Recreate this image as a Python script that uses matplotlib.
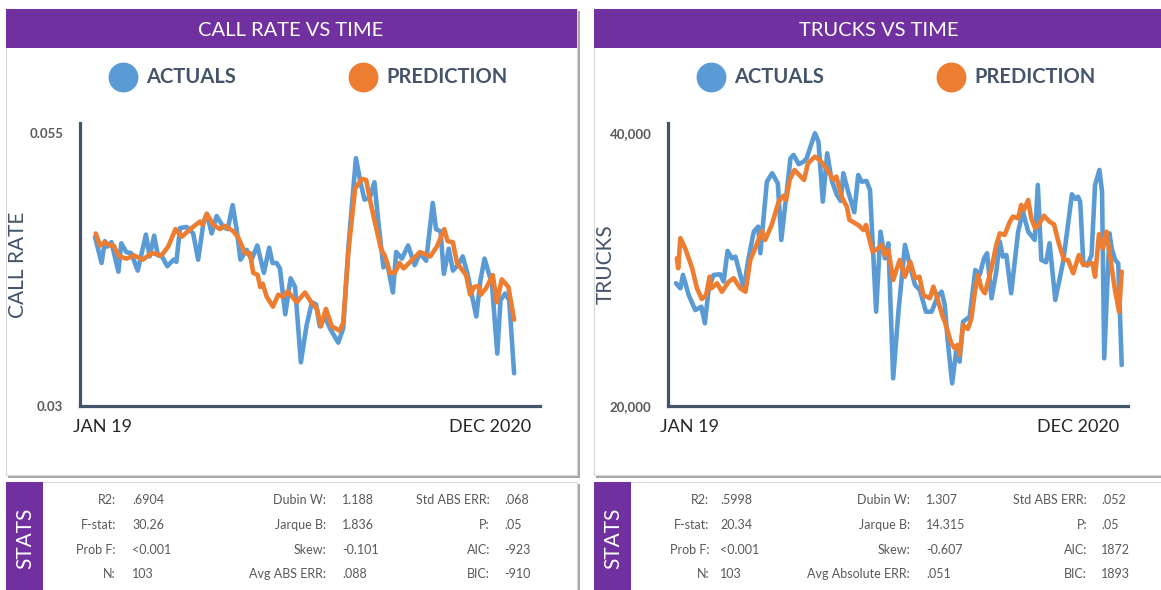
import matplotlib
matplotlib.use("Agg")
import matplotlib.pyplot as plt
from matplotlib.patches import Rectangle
from matplotlib.lines import Line2D

# ---- data (week index 0 = Jan 2019, 102 = Dec 2020) ----
call_act_wk = [0, 1.6, 2.4, 3.0, 4.0, 5.7, 6.4, 7.6, 8.8, 10.4, 12.4, 13.3, 14.4, 15.3, 16.3, 17.6,
               19.1, 19.8, 20.7, 22.3, 23.9, 25.1, 26.4, 27.2, 28.4, 29.6, 31.2, 32.3, 33.5, 34.5,
               35.4, 36.9, 38.1, 39.5, 41.1, 42.4, 43.2, 44.2, 45.0, 46.3, 47.6, 48.7, 50.1, 51.5,
               52.8, 53.8, 54.7, 55.9, 57.2, 59.2, 60.4, 61.7, 63.5, 64.6, 65.6, 66.9, 68.0, 69.0,
               70.2, 71.1, 72.5, 73.3, 74.7, 76.2, 77.8, 79.1, 80.6, 82.2, 83.0, 84.1, 84.9, 86.1,
               87.1, 88.5, 89.5, 90.6, 91.8, 92.8, 93.8, 94.8, 95.8, 96.6, 97.9, 98.7, 99.8, 100.8, 102]
call_act = [.0455, .0431, .0451, .0446, .0450, .0423, .0449, .0441, .0440, .0424, .0457, .0437,
            .0456, .0438, .0437, .0428, .0434, .0432, .0463, .0464, .0458, .0434, .0468, .0476,
            .0458, .0474, .0464, .0462, .0484, .0461, .0434, .0443, .0434, .0447, .0422, .0445,
            .0431, .0431, .0426, .0384, .0417, .0409, .0340, .0374, .0395, .0393, .0373, .0382,
            .0371, .0358, .0371, .0447, .0527, .0505, .0489, .0491, .0505, .0467, .0427, .0431,
            .0404, .0441, .0435, .0447, .0429, .0440, .0433, .0486, .0462, .0460, .0421, .0444,
            .0424, .0430, .0437, .0422, .0400, .0382, .0415, .0435, .0422, .0412, .0348, .0397,
            .0403, .0397, .0330]

call_pred_wk = [0.2, 1.2, 2.4, 3.7, 4.5, 5.9, 7.7, 9.5, 11.6, 13.8, 16.2, 17.8, 19.6, 21.1, 23.5,
                25.6, 26.2, 27.2, 28.8, 30.4, 31.6, 33.7, 34.9, 36.5, 37.7, 38.5, 39.6, 40.2, 40.8,
                41.8, 43.3, 44.6, 45.7, 46.9, 49.1, 51.1, 52.8, 54.0, 55.0, 56.2, 57.6, 59.5, 60.4,
                61.7, 63.3, 64.9, 66.0, 66.9, 68.2, 69.6, 70.6, 71.8, 73.0, 74.1, 75.1, 76.7, 79.1,
                81.6, 83.2, 85.0, 85.8, 87.1, 88.1, 89.3, 90.3, 91.3, 92.3, 93.3, 93.9, 95.2, 96.8,
                97.8, 99.0, 100.6, 102]
call_pred = [.0458, .0447, .0450, .0447, .0447, .0437, .0435, .0438, .0434, .0440, .0438, .0446,
             .0462, .0455, .0463, .0469, .0466, .0476, .0466, .0462, .0465, .0460, .0454, .0440,
             .0440, .0422, .0420, .0409, .0412, .0400, .0391, .0402, .0400, .0405, .0395, .0404,
             .0394, .0389, .0373, .0389, .0373, .0369, .0376, .0443, .0499, .0508, .0507, .0489,
             .0467, .0444, .0437, .0422, .0422, .0431, .0426, .0432, .0441, .0437, .0446, .0462,
             .0451, .0450, .0431, .0425, .0420, .0402, .0409, .0410, .0402, .0408, .0420, .0395,
             .0416, .0409, .0379]

truck_act_wk = [0, 1.0, 1.6, 2.9, 4.4, 5.8, 6.6, 7.5, 8.6, 10.1, 10.9, 11.8, 12.8, 13.6, 14.3, 15.5,
                16.6, 17.8, 18.8, 19.3, 20.8, 22.0, 23.3, 24.1, 25.0, 26.2, 26.9, 28.1, 29.2, 29.9,
                31.8, 32.6, 33.6, 34.6, 35.6, 36.8, 37.7, 38.3, 39.4, 40.8, 41.7, 42.5, 43.6, 44.4,
                45.8, 46.8, 47.8, 48.6, 49.7, 50.9, 52.4, 53.5, 54.7, 55.8, 57.2, 58.5, 60.0, 60.8,
                61.5, 62.2, 63.2, 64.1, 64.9, 65.7, 67.2, 68.5, 69.5, 70.5, 71.2, 72.2, 73.3, 74.1,
                74.8, 75.6, 76.7, 78.3, 79.4, 80.6, 82.1, 82.8, 83.6, 84.7, 85.5, 86.8, 88.6, 89.7,
                90.6, 91.4, 92.0, 92.5, 93.2, 94.1, 95.1, 95.9, 96.9, 97.5, 98.0, 99.2, 99.7, 100.5,
                101.2, 102]
truck_act = [28990, 28620, 29600, 28130, 27030, 27270, 26060, 28620, 29600, 29650, 29110, 31360,
             30820, 30940, 30090, 28620, 30820, 32770, 33140, 31190, 36430, 37050, 36320, 32160,
             34730, 38150, 38390, 37710, 37900, 38150, 39980, 39360, 34970, 38510, 36560, 35460,
             35020, 37050, 35700, 34190, 36920, 36430, 36480, 35820, 26910, 32770, 30820, 31920,
             22030, 26910, 31800, 30330, 28860, 28500, 26910, 26910, 28130, 28370, 27400, 24710,
             21660, 23980, 23250, 26180, 26540, 29960, 29600, 30820, 31190, 27890, 29840, 32040,
             30940, 31060, 28260, 32770, 34230, 32770, 32160, 36190, 30700, 30530, 31920, 27770,
             30570, 33260, 35510, 35160, 35330, 34970, 30570, 30280, 31060, 36190, 37290, 35700,
             23490, 32650, 31550, 30700, 30450, 23000]

truck_pred_wk = [0.2, 0.5, 1.0, 2.1, 3.7, 4.8, 5.9, 6.9, 7.7, 8.1, 9.4, 10.5, 12.1, 13.2, 14.7, 15.9,
                 17.0, 18.1, 19.7, 20.4, 21.9, 23.5, 24.6, 25.2, 26.0, 27.1, 28.2, 29.3, 30.2, 31.8,
                 32.9, 34.4, 36.0, 36.7, 37.9, 39.1, 39.7, 41.7, 42.9, 43.5, 44.0, 45.0, 46.3, 47.1,
                 47.8, 48.6, 49.7, 51.2, 52.4, 53.6, 54.7, 55.7, 56.6, 58.1, 58.9, 59.8, 60.9, 61.5,
                 63.0, 63.8, 64.4, 64.9, 65.7, 66.8, 67.6, 68.4, 69.1, 69.9, 70.7, 72.2, 73.3, 74.1,
                 75.2, 76.4, 77.1, 78.3, 79.0, 79.6, 80.6, 81.3, 82.2, 83.2, 84.2, 85.5, 86.5, 87.6,
                 88.8, 89.7, 90.9, 92.2, 93.2, 94.3, 95.3, 95.9, 96.8, 97.7, 98.5, 99.3, 100.4, 101.4, 102]
truck_pred = [30820, 30090, 32290, 31550, 30090, 28620, 27840, 28130, 29470, 28620, 28990, 28370,
              29110, 29360, 28620, 28370, 30700, 31550, 32820, 32160, 33260, 34970, 35410, 35090,
              36560, 37290, 36920, 36560, 37780, 38260, 38020, 37410, 36560, 36800, 35330, 34600,
              33630, 33260, 32890, 33260, 32530, 31300, 31550, 31800, 31060, 31430, 29230, 30700,
              29470, 30570, 29360, 29470, 28130, 27890, 28740, 27890, 26670, 26180, 24590, 24230,
              24470, 23740, 25930, 25640, 26420, 28370, 29600, 28620, 28260, 30090, 31800, 32650,
              32530, 33500, 33870, 33750, 34730, 34360, 35090, 33750, 33020, 33380, 33940, 33500,
              33310, 31920, 30700, 30700, 29720, 31060, 30330, 30380, 30450, 29470, 32580, 31550,
              32770, 31060, 28620, 26910, 29840]

stat_labels = [["R2:", "F-stat:", "Prob F:", "N:"],
               ["Dubin W:", "Jarque B:", "Skew:", "Avg ABS ERR:"],
               ["Std ABS ERR:", "P:", "AIC:", "BIC:"]]
call_stats = [[".6904", "30.26", "<0.001", "103"],
              ["1.188", "1.836", "-0.101", ".088"],
              [".068", ".05", "-923", "-910"]]
truck_labels = [["R2:", "F-stat:", "Prob F:", "N:"],
                ["Dubin W:", "Jarque B:", "Skew:", "Avg Absolute ERR:"],
                ["Std ABS ERR:", "P:", "AIC:", "BIC:"]]
truck_stats = [[".5998", "20.34", "<0.001", "103"],
               ["1.307", "14.315", "-0.607", ".051"],
               [".052", ".05", "1872", "1893"]]

BLUE = "#5B9BD5"
ORANGE = "#ED7D31"
PURPLE = "#7030A0"
SLATE = "#44546A"
GREY = "#595959"

W, H = 1161, 590
plt.rcParams['font.family'] = ['Lato', 'DejaVu Sans']
fig = plt.figure(figsize=(W / 100, H / 100), dpi=100)


def fx(x):
    return x / W


def fy(y):
    return 1 - y / H


def rect(x0, y0, x1, y1, **kw):
    fig.add_artist(Rectangle((fx(x0), fy(y1)), (x1 - x0) / W, (y1 - y0) / H,
                             transform=fig.transFigure, zorder=-5, **kw))


def card(x0, y0, x1, y1):
    rect(x0 + 2, y0 + 2, x1 + 3, y1 + 3, fc="#a6a6a6", lw=0)
    rect(x0, y0, x1, y1, fc="white", ec="#d9d9d9", lw=0.8)


def panel(x0, x1, title, act_wk, act, pred_wk, pred, ax_box, xlim, ylim,
          yticks, yticklabels, xticks, ylabel, labels, values, lab_x, val_x):
    card(x0, 9, x1, 475)
    rect(x0, 9, x1, 48, fc=PURPLE, lw=0)
    fig.text(fx((x0 + x1 - 2) / 2), fy(30), title, color="white", fontsize=14.5,
             ha="center", va="center")

    # legend
    lx = x0 + 117
    for dx, col, name in [(0, BLUE, "ACTUALS"), (240, ORANGE, "PREDICTION")]:
        fig.add_artist(Line2D([fx(lx + dx)], [fy(77)], marker="o", ms=20.5, color=col,
                              ls="none", transform=fig.transFigure))
        fig.text(fx(lx + dx + 23), fy(77), name, color=SLATE, fontsize=14.5,
                 fontweight="bold", ha="left", va="center")

    ax = fig.add_axes([fx(ax_box[0]), fy(ax_box[3]), (ax_box[2] - ax_box[0]) / W,
                       (ax_box[3] - ax_box[1]) / H])
    ax.set_facecolor("none")
    ax.plot(act_wk, act, color=BLUE, lw=3.3, solid_joinstyle="round", solid_capstyle="round")
    ax.plot(pred_wk, pred, color=ORANGE, lw=3.3, solid_joinstyle="round", solid_capstyle="round")
    ax.set_xlim(*xlim)
    ax.set_ylim(*ylim)
    for s in ["top", "right"]:
        ax.spines[s].set_visible(False)
    for s in ["left", "bottom"]:
        ax.spines[s].set_color(SLATE)
        ax.spines[s].set_linewidth(2.3)
    ax.set_yticks(yticks)
    ax.set_yticklabels(yticklabels, color=GREY, fontsize=9.5, fontweight="bold")
    ax.set_xticks(xticks)
    ax.set_xticklabels(["JAN 19", "DEC 2020"], color="#262626", fontsize=13)
    ax.tick_params(axis="y", length=0, pad=12)
    ax.tick_params(axis="x", length=0, pad=9)
    ax.set_ylabel(ylabel, color=SLATE, fontsize=15)
    ax.yaxis.set_label_coords((x0 + 22 - ax_box[0]) / (ax_box[2] - ax_box[0]), 0.5)

    # stats card
    card(x0, 482, x1, 600)
    rect(x0, 482, x0 + 37, 600, fc=PURPLE, lw=0)
    fig.text(fx(x0 + 19), fy(538), "STATS", color="white", fontsize=15, rotation=90,
             ha="center", va="center")
    rows = [500, 525, 550, 574]
    for c in range(3):
        for r in range(4):
            fig.text(fx(lab_x[c]), fy(rows[r]), labels[c][r], color=GREY, fontsize=9,
                     ha="right", va="center")
            fig.text(fx(val_x[c]), fy(rows[r]), values[c][r], color=GREY, fontsize=9,
                     ha="left", va="center")
    return ax


panel(6, 577, "CALL RATE VS TIME", call_act_wk, call_act, call_pred_wk, call_pred,
      (80, 123, 540, 406), (-3.65, 108.3), (0.03, 0.05592),
      [0.03, 0.055], ["0.03", "0.055"], [1.9, 96.2], "CALL RATE",
      stat_labels, call_stats, [116, 326, 490], [132, 342, 504])

panel(594, 1166, "TRUCKS VS TIME", truck_act_wk, truck_act, truck_pred_wk, truck_pred,
      (668, 123, 1128, 406), (-1.83, 103.44), (20000, 40730),
      [20000, 40000], ["20,000", "40,000"], [3.2, 92.0], "TRUCKS",
      truck_labels, truck_stats, [709, 910, 1087], [720, 926, 1101])

fig.savefig("out.png", dpi=100, facecolor="white")
